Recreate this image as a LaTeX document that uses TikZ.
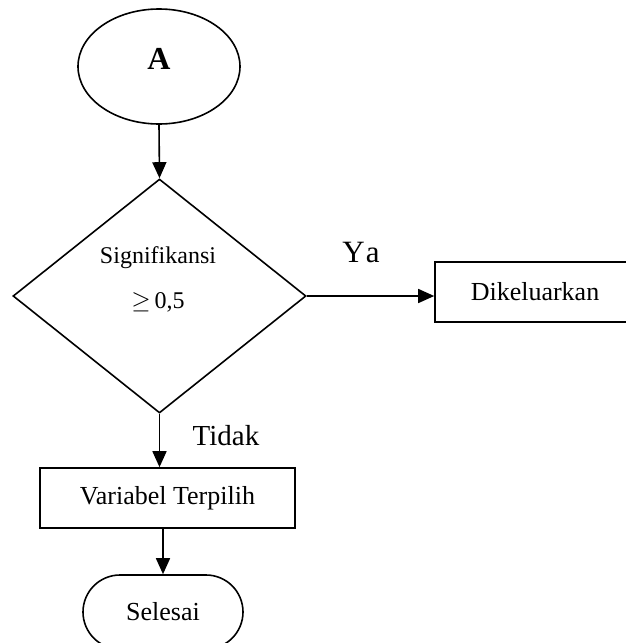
\documentclass[tikz,border=0pt]{standalone}
\usepackage{fontspec}
\setmainfont{Liberation Serif}
\usetikzlibrary{shapes.geometric,shapes.misc,arrows.meta}

\begin{document}
\begin{tikzpicture}[x=1pt,y=-1pt,
  line width=1.6pt,
  flow/.style={-{Triangle[length=16pt,width=14pt]}},
  boxtxt/.style={font=\fontsize{26}{30}\selectfont},
  procbox/.style={draw, rectangle, inner sep=0pt, minimum height=60pt, boxtxt},
  terminal/.style={draw, rounded rectangle, inner sep=0pt, boxtxt},
  decision/.style={draw, diamond, inner sep=0pt},
  small/.style={font=\fontsize{24}{28}\selectfont},
  branch/.style={font=\fontsize{29}{33}\selectfont, anchor=base}]

  \useasboundingbox (0,0) rectangle (626,643);
  \clip (0,0) rectangle (626,643);

  % connector node and its letter
  \node[draw, ellipse, inner sep=0pt, minimum width=162pt, minimum height=115pt] (start) at (159,66.5) {};
  \node[anchor=base, font=\bfseries\fontsize{32}{36}\selectfont] (startlbl) at (159,69) {A};

  % decision
  \node[decision, minimum width=293pt, minimum height=234pt] (dec) at (159.5,296) {};
  \node[small, anchor=base] (cond1) at (158,263) {Signifikansi};
  \node[small, anchor=base] (cond2) at (158,308) {$\geq$\,0,5};

  % outcomes
  \node[procbox, minimum width=200pt] (out) at (535,292) {Dikeluarkan};
  \node[procbox, minimum width=255pt] (sel) at (167.5,498) {Variabel Terpilih};
  \node[terminal, minimum width=160pt, minimum height=74pt] (end) at (163,612) {Selesai};

  % connectors
  \draw[flow] (start.south) -- (dec.north);
  \draw[flow] (dec.east) -- (dec.east -| out.west);
  \draw[flow] (dec.south) -- (dec.south |- sel.north);
  \draw[flow] (end.north |- sel.south) -- (end.north);

  % branch labels
  \node[branch, font=\fontsize{31}{35}\selectfont] (yes) at (361,262) {Y\kern1pt a};
  \node[branch] (no) at (226,445) {Tidak};
\end{tikzpicture}
\end{document}
